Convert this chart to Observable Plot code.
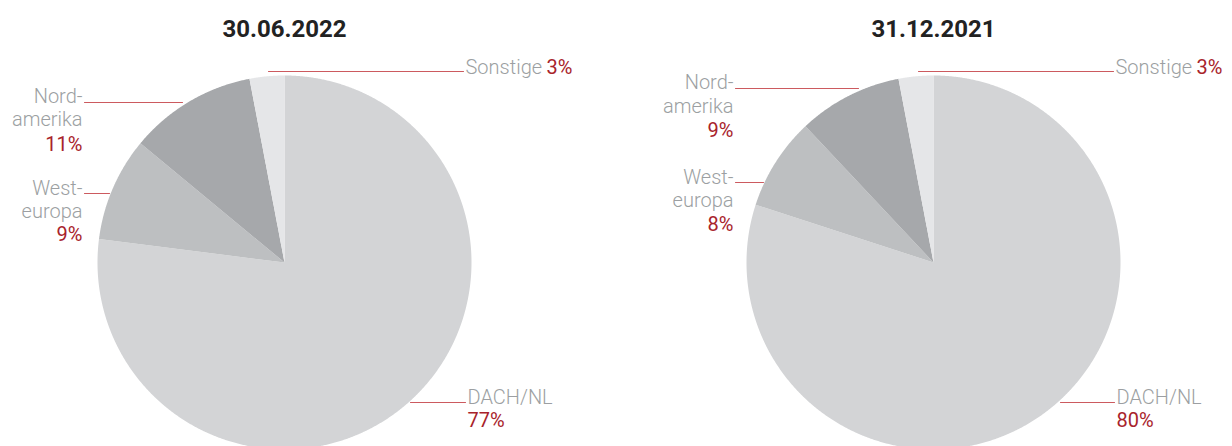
<!DOCTYPE html>
<html>
<head>
<meta charset="utf-8">
<script src="https://cdn.jsdelivr.net/npm/d3@7"></script>
<script src="https://cdn.jsdelivr.net/npm/@observablehq/plot@0.6"></script>
<style>
  html, body { margin: 0; padding: 0; background: #fff; }
  #chart svg { display: block; }
</style>
</head>
<body>
<div id="chart"></div>
<script>
// ---- data ----
const regions = ["DACH/NL", "West-europa", "Nord-amerika", "Sonstige"];
const share2022 = [77, 9, 11, 3];
const share2021 = [80, 8, 9, 3];
const dates = ["30.06.2022", "31.12.2021"];

// ---- styles / layout ----
const sliceColors = ["#d3d4d6", "#bdbfc1", "#a6a8ab", "#e5e6e8"];
const grayText = "#9c9fa2";
const redText = "#a8232b";
const leaderColor = "#cc5a5f";
const W = 1232, H = 446;

const pies = [
  {date: dates[0], values: share2022, cx: 284, cy: 262, r: 187,
   layout: {
     dach: {line: [410, 465], y: 402, tx: 467},
     west: {line: [84, 109], ys: [194, 217, 240], tx: 82},
     nord: {line: [84, 182], ys: [102, 125, 150], tx: 82},
     sonst: {line: [268, 463], y: 71, tx: 465, px: 546}
   }},
  {date: dates[1], values: share2021, cx: 933, cy: 262, r: 187,
   layout: {
     dach: {line: [1060, 1114], y: 402, tx: 1116},
     west: {line: [735, 763], ys: [183, 206, 230], tx: 733},
     nord: {line: [735, 858], ys: [88, 112, 136], tx: 733},
     sonst: {line: [918, 1113], y: 71, tx: 1115, px: 1196}
   }}
];

// slice polygons computed from data via d3.pie
const slicePts = [];
pies.forEach((p, pi) => {
  const arcs = d3.pie().sort(null)(p.values);
  arcs.forEach((a, i) => {
    const key = pi + "-" + i;
    slicePts.push({key, i, x: p.cx, y: p.cy});
    const n = Math.max(4, Math.ceil((a.endAngle - a.startAngle) / 0.005));
    for (let k = 0; k <= n; k++) {
      const t = a.startAngle + (a.endAngle - a.startAngle) * k / n;
      slicePts.push({key, i, x: p.cx + p.r * Math.sin(t), y: p.cy - p.r * Math.cos(t)});
    }
    slicePts.push({key, i, x: p.cx, y: p.cy});
  });
});

// leader lines + labels
const leaders = [];
const labels = []; // {text, x, y, anchor, red}
const titles = [];
pies.forEach((p, pi) => {
  const L = p.layout;
  titles.push({text: p.date, x: p.cx, y: 36});
  // DACH
  leaders.push({key: pi + "d", x: L.dach.line[0], y: L.dach.y}, {key: pi + "d", x: L.dach.line[1], y: L.dach.y});
  labels.push({text: regions[0], x: L.dach.tx, y: L.dach.y + 1, anchor: "start", red: false});
  labels.push({text: p.values[0] + "%", x: L.dach.tx, y: L.dach.y + 24, anchor: "start", red: true});
  // West
  const w = regions[1].split("-");
  leaders.push({key: pi + "w", x: L.west.line[0], y: L.west.ys[0] - 1}, {key: pi + "w", x: L.west.line[1], y: L.west.ys[0] - 1});
  labels.push({text: w[0] + "-", x: L.west.tx, y: L.west.ys[0], anchor: "end", red: false});
  labels.push({text: w[1], x: L.west.tx, y: L.west.ys[1], anchor: "end", red: false});
  labels.push({text: p.values[1] + "%", x: L.west.tx, y: L.west.ys[2], anchor: "end", red: true});
  // Nord
  const nn = regions[2].split("-");
  leaders.push({key: pi + "n", x: L.nord.line[0], y: L.nord.ys[0]}, {key: pi + "n", x: L.nord.line[1], y: L.nord.ys[0]});
  labels.push({text: nn[0] + "-", x: L.nord.tx, y: L.nord.ys[0], anchor: "end", red: false});
  labels.push({text: nn[1], x: L.nord.tx, y: L.nord.ys[1], anchor: "end", red: false});
  labels.push({text: p.values[2] + "%", x: L.nord.tx, y: L.nord.ys[2], anchor: "end", red: true});
  // Sonstige
  leaders.push({key: pi + "s", x: L.sonst.line[0], y: L.sonst.y}, {key: pi + "s", x: L.sonst.line[1], y: L.sonst.y});
  labels.push({text: regions[3], x: L.sonst.tx, y: L.sonst.y + 2, anchor: "start", red: false});
  labels.push({text: p.values[3] + "%", x: L.sonst.px, y: L.sonst.y + 2, anchor: "start", red: true});
});

const labelFont = "Roboto, 'Liberation Sans', sans-serif";
const textMark = (anchor, red) => Plot.text(
  labels.filter(d => d.anchor === anchor && d.red === red),
  {x: "x", y: "y", text: "text", textAnchor: anchor, lineAnchor: "bottom",
   fontSize: 20, fontWeight: red ? 400 : 300, fill: red ? redText : grayText, fontFamily: labelFont});

const chart = Plot.plot({
  width: W,
  height: H,
  margin: 0,
  x: {domain: [0, W], range: [0, W], axis: null},
  y: {domain: [0, H], range: [0, H], axis: null},
  style: {background: "#fff"},
  marks: [
    Plot.line(slicePts, {x: "x", y: "y", z: "key", fill: d => sliceColors[d.i], stroke: "none", curve: "linear"}),
    Plot.line(leaders, {x: "x", y: "y", z: "key", stroke: leaderColor, strokeWidth: 1.1}),
    Plot.text(titles, {x: "x", y: "y", text: "text", textAnchor: "middle", lineAnchor: "bottom",
      fontSize: 24, fontWeight: 700, fill: "#222", fontFamily: labelFont}),
    textMark("start", false),
    textMark("end", false),
    textMark("start", true),
    textMark("end", true)
  ]
});
document.getElementById("chart").appendChild(chart);
</script>
</body>
</html>
